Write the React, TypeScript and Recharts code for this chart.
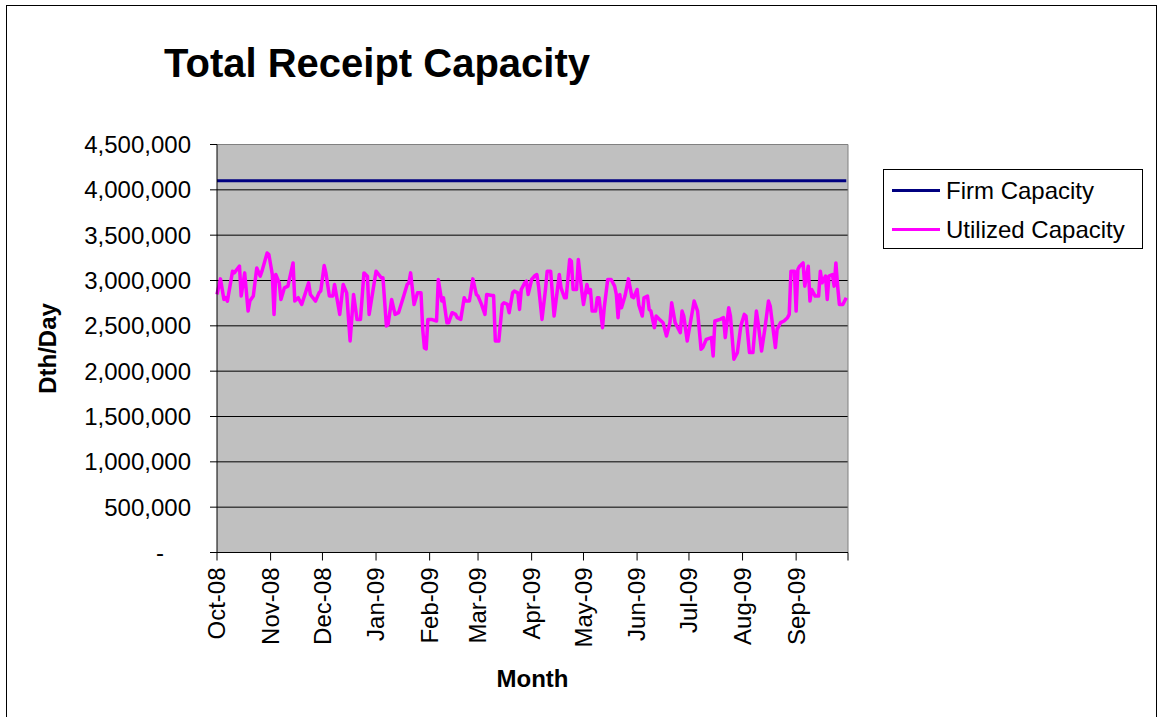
import {
  LineChart,
  Line,
  XAxis,
  YAxis,
  CartesianGrid,
  Legend,
  ReferenceLine,
} from "recharts";

const FONT = '"Liberation Sans", Arial, sans-serif';

// x axis: days since Oct 1 2008, ticks on the first of each month
const monthTicks = [0, 31, 61, 92, 123, 151, 182, 212, 243, 273, 304, 335, 365];
const monthLabels = [
  "Oct-08", "Nov-08", "Dec-08", "Jan-09", "Feb-09", "Mar-09",
  "Apr-09", "May-09", "Jun-09", "Jul-09", "Aug-09", "Sep-09", "",
];

const yTicks = [0, 500000, 1000000, 1500000, 2000000, 2500000, 3000000, 3500000, 4000000, 4500000];

const firmCapacity = 4100000;

// utilized capacity, thousands of Dth/Day
const utilDays = [
  0, 2, 4, 5, 6, 9, 10, 13, 14, 16, 18, 19, 21, 23, 25, 26, 29, 30, 32, 33,
  34, 36, 37, 39, 41, 44, 45, 47, 49, 53, 54, 57, 59, 60, 62, 63, 65, 67, 68, 71,
  73, 75, 77, 79, 81, 83, 85, 87, 88, 92, 95, 96, 98, 99, 101, 103, 105, 108, 110, 111,
  112, 114, 116, 118, 119, 120, 121, 122, 124, 127, 128, 130, 131, 133, 134, 136, 138, 139, 141, 143,
  144, 146, 148, 150, 151, 153, 155, 156, 159, 160, 161, 163, 165, 166, 168, 169, 171, 172, 174, 175,
  176, 178, 179, 180, 182, 184, 185, 186, 188, 190, 191, 193, 195, 198, 199, 201, 202, 204, 205, 206,
  208, 209, 211, 212, 214, 215, 216, 217, 219, 220, 221, 223, 224, 226, 228, 230, 231, 232, 233, 234,
  236, 238, 240, 241, 243, 244, 246, 247, 249, 250, 251, 253, 254, 256, 258, 260, 262, 263, 265, 266,
  268, 269, 270, 272, 274, 276, 278, 280, 281, 283, 286, 287, 288, 291, 293, 294, 296, 297, 299, 301,
  303, 305, 306, 308, 310, 312, 313, 315, 317, 319, 320, 323, 324, 326, 328, 330, 331, 332, 334, 335,
  336, 337, 339, 340, 342, 343, 344, 346, 348, 349, 350, 352, 353, 354, 356, 357, 358, 359, 360, 362,
  364,
];
const utilized = [
  2846, 3018, 2791, 2810, 2773, 3103, 3084, 3158, 2828, 3084, 2663, 2773, 2828, 3139, 3048, 3103, 3304, 3286, 3066, 2626,
  3066, 2974, 2791, 2919, 2938, 3194, 2773, 2810, 2736, 2974, 2846, 2773, 2864, 2883, 3165, 3084, 2828, 2828, 2956, 2626,
  2956, 2864, 2333, 2846, 2571, 2571, 3084, 3048, 2626, 3103, 3030, 3030, 2498, 2516, 2791, 2626, 2645, 2828, 2956, 2974,
  3084, 2736, 2864, 2864, 2461, 2255, 2245, 2571, 2571, 2553, 3011, 2773, 2810, 2535, 2535, 2645, 2626, 2590, 2571, 2810,
  2773, 2773, 3018, 2846, 2828, 2736, 2626, 2846, 2835, 2835, 2333, 2333, 2736, 2755, 2736, 2645, 2864, 2883, 2864, 2681,
  2901, 2974, 2993, 2846, 3011, 3055, 3066, 2938, 2571, 2901, 3103, 3103, 2608, 3066, 2919, 2810, 2810, 3231, 3212, 2901,
  2901, 3231, 2883, 2736, 2956, 2864, 2901, 2663, 2663, 2810, 2810, 2480, 2700, 3011, 3011, 2938, 2846, 2590, 2846, 2700,
  2828, 3018, 2820, 2810, 2901, 2730, 2608, 2810, 2828, 2681, 2663, 2480, 2608, 2571, 2535, 2388, 2535, 2755, 2535, 2498,
  2425, 2663, 2608, 2333, 2553, 2773, 2663, 2242, 2260, 2351, 2370, 2168, 2553, 2571, 2590, 2370, 2700, 2608, 2132, 2205,
  2498, 2626, 2608, 2205, 2205, 2663, 2535, 2223, 2480, 2773, 2718, 2260, 2461, 2535, 2553, 2590, 2626, 3103, 3103, 2663,
  3121, 3158, 3194, 2938, 3158, 2773, 2901, 2828, 2828, 3103, 2974, 3048, 2791, 3048, 3066, 2938, 3194, 2938, 2736, 2736,
  2810,
];

const data = utilDays.map((day, i) => ({
  day,
  firm: firmCapacity,
  utilized: utilized[i] * 1000,
}));

function XTick(props: any) {
  const { x, y, payload } = props;
  const label = monthLabels[monthTicks.indexOf(payload.value)] ?? "";
  return (
    <text
      x={x}
      y={y}
      dy="0.35em"
      textAnchor="end"
      transform={`rotate(-90, ${x}, ${y})`}
      fontSize={24}
      fill="#000"
    >
      {label}
    </text>
  );
}

function YTick(props: any) {
  const { x, y, payload } = props;
  const v = payload.value as number;
  return (
    <text
      x={v === 0 ? x - 27 : x}
      y={y}
      dy="0.355em"
      textAnchor="end"
      fontSize={24}
      fill="#000"
    >
      {v === 0 ? "-" : v.toLocaleString("en-US")}
    </text>
  );
}

function renderLegend(props: any) {
  const { payload } = props;
  return (
    <div
      style={{
        width: 260,
        height: 80,
        boxSizing: "border-box",
        border: "1px solid #000",
        background: "#fff",
        paddingTop: 1,
      }}
    >
      {(payload ?? []).map((entry: any) => (
        <div
          key={entry.value}
          style={{ display: "flex", alignItems: "center", height: 39, paddingLeft: 8 }}
        >
          <span
            style={{ display: "inline-block", width: 48, height: 3, background: entry.color, marginRight: 6 }}
          />
          <span style={{ fontSize: 24, color: "#000", lineHeight: "28px" }}>{entry.value}</span>
        </div>
      ))}
    </div>
  );
}

export default function App() {
  return (
    <div
      style={{
        position: "absolute",
        left: 6,
        top: 5,
        width: 1149,
        height: 720,
        border: "1px solid #000",
        background: "#fff",
        fontFamily: FONT,
      }}
    >
      <div
        style={{
          position: "absolute",
          left: 157,
          top: 37,
          fontSize: 40,
          fontWeight: "bold",
          lineHeight: "40px",
          whiteSpace: "nowrap",
          zIndex: 1,
        }}
      >
        Total Receipt Capacity
      </div>
      <LineChart
        width={1149}
        height={712}
        data={data}
        margin={{ top: 138.5, right: 308, bottom: 0, left: 0 }}
      >
        <CartesianGrid vertical={false} stroke="#000" fill="#C0C0C0" />
        <XAxis
          type="number"
          dataKey="day"
          domain={[0, 365]}
          ticks={monthTicks}
          interval={0}
          height={165.5}
          tickSize={8}
          tickMargin={7}
          axisLine={{ stroke: "#000" }}
          tickLine={{ stroke: "#000" }}
          tick={<XTick />}
          label={{
            value: "Month",
            content: (p: any) => {
              const vb = p.viewBox;
              return (
                <text
                  x={vb.x + vb.width / 2}
                  y={vb.y + 134.5}
                  textAnchor="middle"
                  fontSize={24}
                  fontWeight="bold"
                  fill="#000"
                >
                  Month
                </text>
              );
            },
          }}
        />
        <YAxis
          type="number"
          domain={[0, 4500000]}
          ticks={yTicks}
          interval={0}
          width={210}
          tickSize={7}
          tickMargin={19}
          axisLine={{ stroke: "#000" }}
          tickLine={{ stroke: "#000" }}
          tick={<YTick />}
          label={{
            value: "Dth/Day",
            content: (p: any) => {
              const vb = p.viewBox;
              const cx = vb.x + 49;
              const cy = vb.y + vb.height / 2;
              return (
                <text
                  x={cx}
                  y={cy}
                  textAnchor="middle"
                  transform={`rotate(-90, ${cx}, ${cy})`}
                  fontSize={24}
                  fontWeight="bold"
                  fill="#000"
                >
                  Dth/Day
                </text>
              );
            },
          }}
        />
        <ReferenceLine y={4500000} stroke="#808080" />
        <ReferenceLine x={365} stroke="#808080" />
        <Legend
          layout="vertical"
          align="center"
          verticalAlign="middle"
          wrapperStyle={{ left: 876, top: 163, width: 260, height: 80 }}
          content={renderLegend}
        />
        <Line
          type="linear"
          dataKey="firm"
          name="Firm Capacity"
          stroke="#000080"
          strokeWidth={3}
          dot={false}
          activeDot={false}
          isAnimationActive={false}
        />
        <Line
          type="linear"
          dataKey="utilized"
          name="Utilized Capacity"
          stroke="#FF00FF"
          strokeWidth={3.5}
          strokeLinejoin="round"
          dot={false}
          activeDot={false}
          isAnimationActive={false}
        />
      </LineChart>
    </div>
  );
}
